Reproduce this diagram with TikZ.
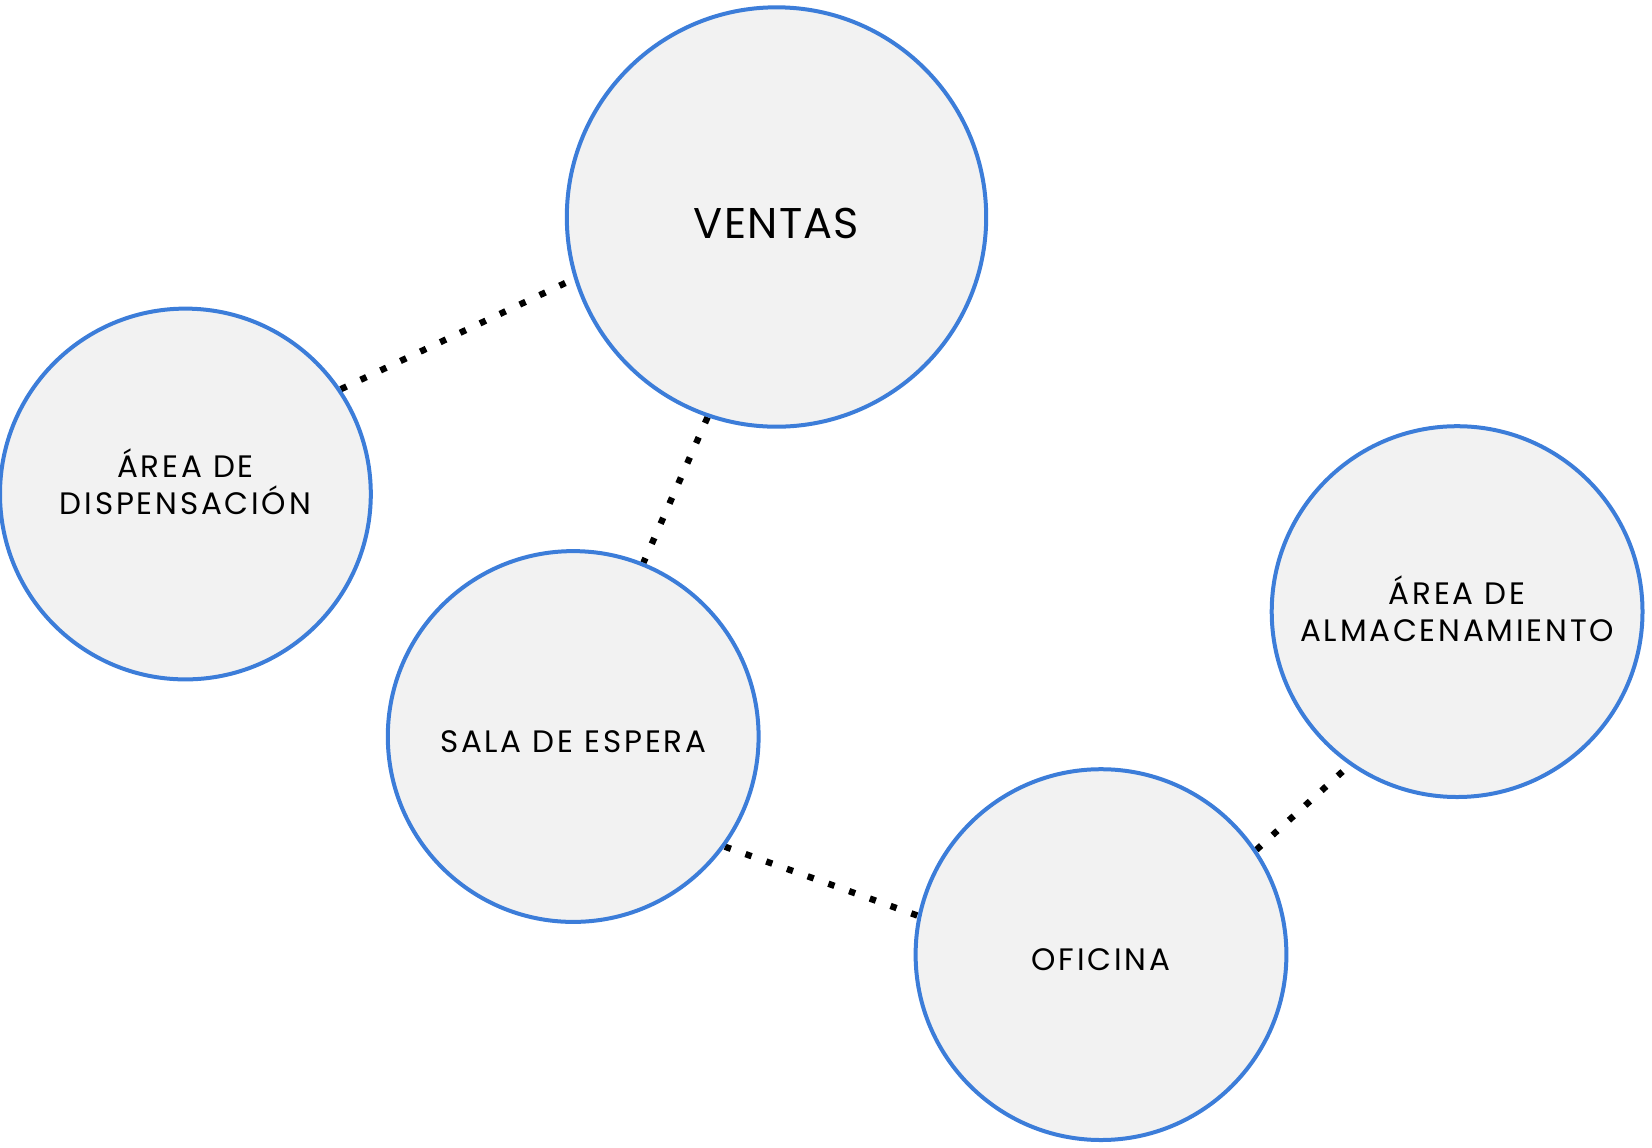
\documentclass[tikz,border=0pt]{standalone}
\usepackage{fontspec}
\setmainfont{Poppins}[LetterSpace=9]
\usetikzlibrary{backgrounds}
\definecolor{roomblue}{RGB}{60,125,217}
\definecolor{roomgray}{RGB}{242,242,242}

\begin{document}
\begin{tikzpicture}[
    x=0.5pt, y=-0.5pt,
    room/.style={circle, draw=roomblue, fill=roomgray, line width=2pt, inner sep=0pt, minimum size=#1, align=center, font=\fontsize{15.5}{18.3}\selectfont},
    link/.style={line width=3.2pt, line cap=butt, dash pattern=on 3.2pt off 7.8pt, color=black}
]
\useasboundingbox (0,0) rectangle (1652,1147);

% Rooms
\node[room=209.7pt, font=\fontsize{21.5}{24}\selectfont\addfontfeature{LetterSpace=3}, text height=21.5pt] (ventas) at (776.5,217) {VENTAS};
\node[room=185.4pt, text depth=12.6pt] (disp) at (185.4,494) {ÁREA DE\\DISPENSACIÓN};
\node[room=185.4pt, text height=16pt] (sala) at (573.2,736.5) {SALA DE ESPERA};
\node[room=185.4pt, text height=16pt] (oficina) at (1101,954.6) {OFICINA};
\node[room=185.4pt, text depth=3pt] (almac) at (1457.1,611.6) {ÁREA DE\\ALMACENAMIENTO};

% Dotted links
\begin{scope}[on background layer]
\draw[link] (disp.34) -- (ventas.197);
\draw[link] (ventas.251) -- (sala.68);
\draw[link] (sala.-36) -- (oficina.168);
\draw[link] (oficina.34) -- (almac.235);
\end{scope}

\end{tikzpicture}
\end{document}
